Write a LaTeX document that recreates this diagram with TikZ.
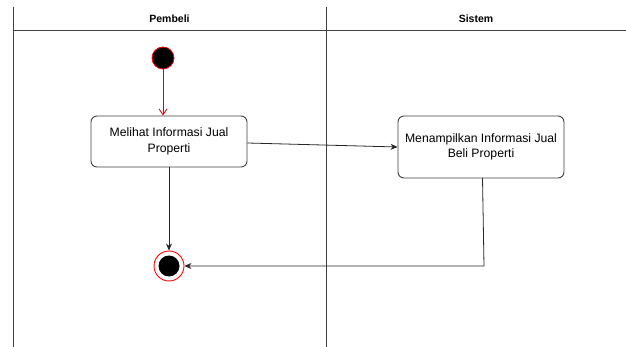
\documentclass[tikz,border=0pt]{standalone}
\usepackage{fontspec}
\setmainfont{Liberation Sans}
\usetikzlibrary{arrows.meta}
\begin{document}
\begin{tikzpicture}[x=1pt,y=-1pt,
  lane/.style={draw=black!75,line width=1pt},
  action/.style={draw=black!75,line width=0.9pt,rounded corners=6pt,fill=white,
    align=center,font=\fontsize{12.2}{15.5}\selectfont,inner sep=1pt},
  flow/.style={draw=black!85,line width=0.8pt,-{Stealth[length=7pt,width=6pt]}},
  startflow/.style={draw=red!90!black,line width=0.8pt,-{Straight Barb[length=6pt,width=8pt]}},
  lanetitle/.style={font=\bfseries\fontsize{10.5}{12}\selectfont}]
\useasboundingbox (0,0) rectangle (626,347);
\fill[white] (0,0) rectangle (626,347);
% swimlanes
\draw[lane] (13,7) -- (13,347);
\draw[lane] (326,7) -- (326,347);
\draw[lane] (13,30.5) -- (626,30.5);
\node[lanetitle] (lane1) at (169.5,19) {Pembeli};
\node[lanetitle] (lane2) at (476,19) {Sistem};
% initial and final states
\node[circle,fill=black,draw=red,line width=0.8pt,minimum size=22pt,inner sep=0pt] (start) at (163,58) {};
\node[circle,draw=red,line width=0.9pt,fill=white,minimum size=30pt,inner sep=0pt] (final) at (169,266) {};
\node[circle,fill=black,minimum size=21pt,inner sep=0pt] (finalcore) at (169,266) {};
% actions
\node[action,minimum width=156pt,minimum height=51pt] (melihat) at (169,141.5) {Melihat Informasi Jual\\Properti};
\node[action,minimum width=166pt,minimum height=62pt] (tampil) at (481,147) {Menampilkan Informasi Jual\\Beli Properti};
% transitions
\draw[startflow] (start) -- (start |- melihat.north);
\draw[flow] (melihat.east |- 0,143) -- (tampil.west |- 0,147);
\draw[flow] (melihat.south -| final) -- (final.north);
\coordinate (corner) at (484,266);
\draw[flow] (482.5,178) -- (corner) -- (final.east);
\end{tikzpicture}
\end{document}
